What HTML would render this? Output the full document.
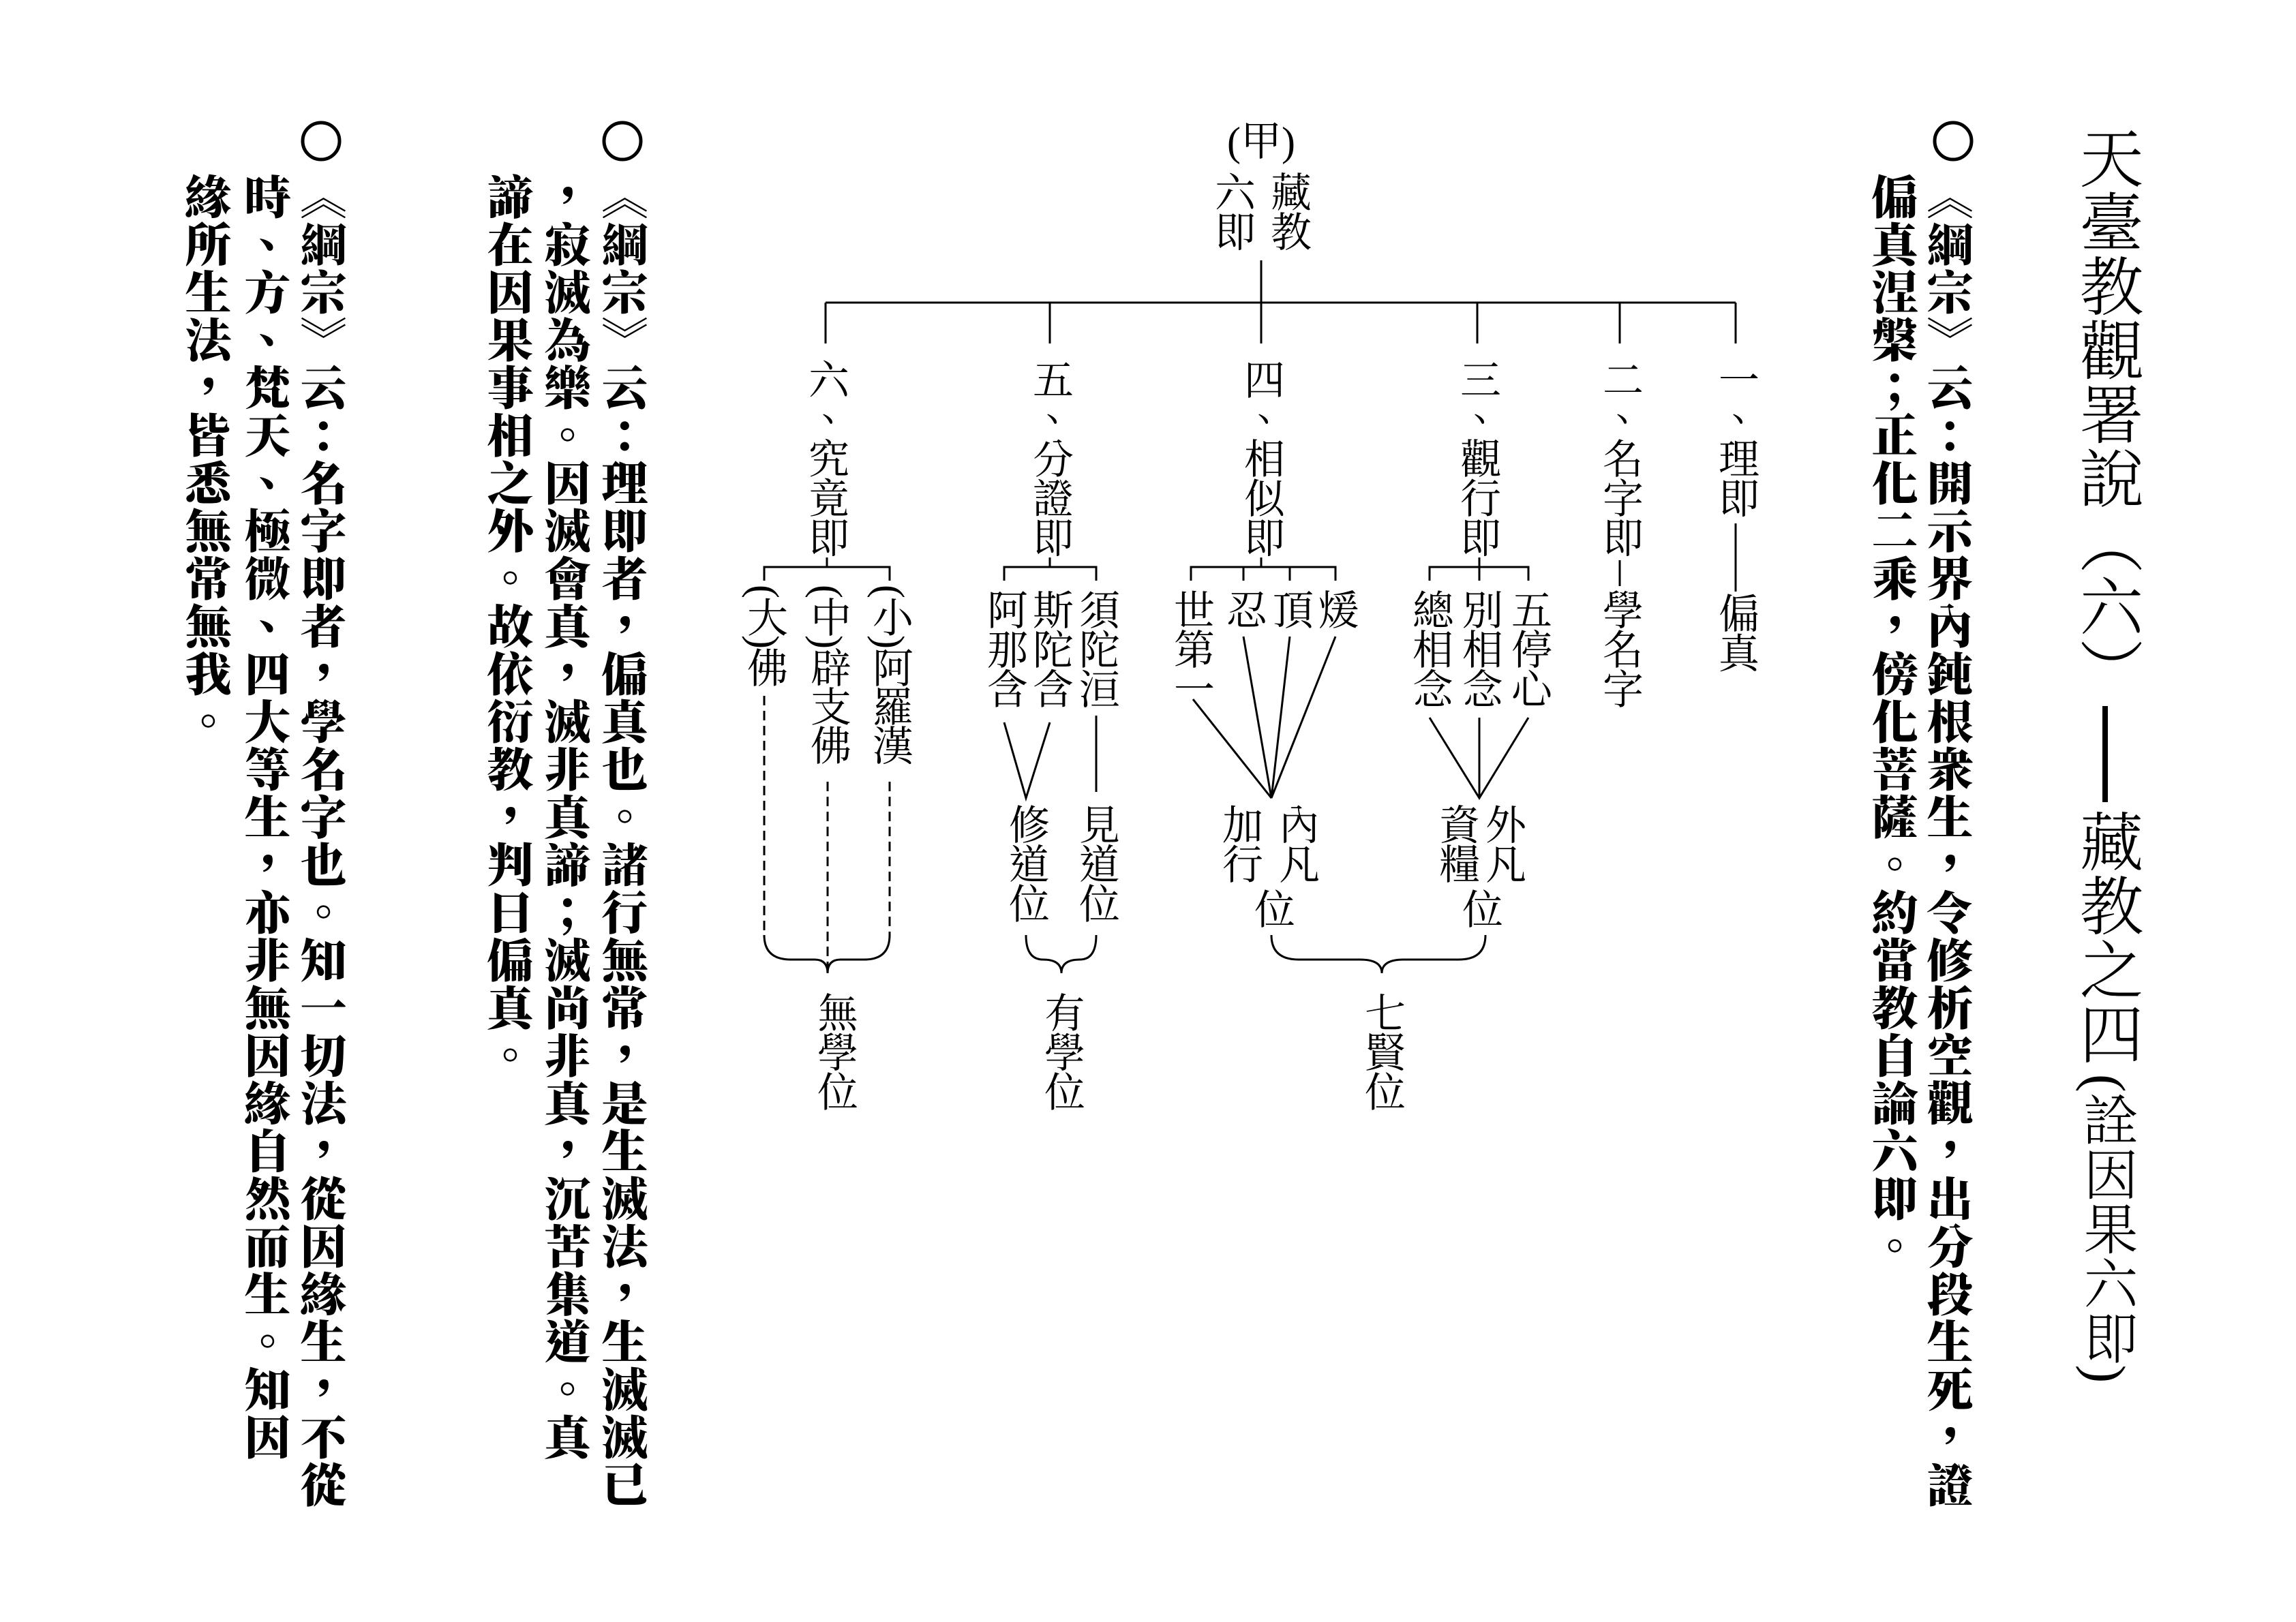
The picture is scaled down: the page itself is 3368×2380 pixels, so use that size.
<!DOCTYPE html>
<html lang="zh-TW"><head><meta charset="utf-8"><style>
body{margin:0;background:#fff}
#c{position:relative;width:3368px;height:2380px;overflow:hidden;background:#fff}
.v{position:absolute;writing-mode:vertical-rl;line-height:1;white-space:nowrap;color:#000}
.t{font-family:"Liberation Serif","Noto Serif CJK SC",serif;font-size:94px;font-weight:300;width:94px}
.p{font-family:"Liberation Serif","Noto Serif CJK SC",serif;font-size:68px;font-weight:900;letter-spacing:2px;width:68px;top:254px}
.d{font-family:"Liberation Serif","Noto Serif CJK SC",serif;font-size:60px;letter-spacing:-2px;width:60px}
.h{position:absolute;font-family:"Liberation Serif","Noto Serif CJK SC",serif;font-size:60px;line-height:1;white-space:nowrap}
svg{position:absolute;left:0;top:0}
</style></head><body><div id="c">
<svg width="3368" height="2380" fill="none" stroke="#000" stroke-width="3">
<circle cx="2865" cy="207" r="27" stroke-width="5"/>
<circle cx="913" cy="207" r="27" stroke-width="5"/>
<circle cx="471" cy="207" r="27" stroke-width="5"/>
<line x1="3088" y1="1036" x2="3088" y2="1177" stroke-width="8"/>
<line x1="1850" y1="382" x2="1850" y2="504"/>
<line x1="1211" y1="444" x2="2546" y2="444"/>
<line x1="1211" y1="444" x2="1211" y2="504"/>
<line x1="1540" y1="444" x2="1540" y2="504"/>
<line x1="2167" y1="444" x2="2167" y2="504"/>
<line x1="2376" y1="444" x2="2376" y2="504"/>
<line x1="2546" y1="444" x2="2546" y2="504"/>
<line x1="2546" y1="768" x2="2546" y2="868"/>
<line x1="2376" y1="822" x2="2376" y2="860"/>
<path d="M1121 852 V832 H1305 V852 M1213 818 V832"/>
<path d="M1473 852 V832 H1608 V852 M1540 818 V832"/>
<path d="M1747 852 V832 H1959 V852 M1824 832 V852 M1892 832 V852 M1850 818 V832"/>
<path d="M2097 852 V832 H2242 V852 M2170 818 V852"/>
<path d="M1750 1026 L1865 1171 L1824 934 M1865 1171 L1892 934 M1865 1171 L1959 934"/>
<path d="M2097 1053 L2170 1171 L2242 1053 M2170 1053 V1171"/>
<path d="M1473 1060 L1505 1171 L1540 1060 M1608 1050 V1162"/>
<g stroke-dasharray="14 8">
<line x1="1121" y1="1021" x2="1121" y2="1375"/>
<line x1="1214" y1="1147" x2="1214" y2="1420"/>
<line x1="1305" y1="1147" x2="1305" y2="1375"/>
</g>
<path d="M1121 1372 Q1121 1408 1160 1408 L1195 1408 Q1214 1408 1214 1428 Q1214 1408 1233 1408 L1268 1408 Q1305 1408 1305 1372"/>
<path d="M1505 1372 Q1505 1408 1530 1408 Q1557 1408 1557 1428 Q1557 1408 1584 1408 Q1608 1408 1608 1372"/>
<path d="M1865 1372 Q1865 1408 1905 1408 L1995 1408 Q2027 1408 2027 1428 Q2027 1408 2059 1408 L2140 1408 Q2179 1408 2179 1372"/>
</svg>

<div class="v t" style="left:3041px;top:184px">天臺教觀署說（六）</div>
<div class="v t" style="left:3041px;top:1187px">藏教之四</div>
<div class="v t" style="left:3048px;top:1576px;font-size:80px;width:80px">(詮因果六即)</div>

<div class="v p" style="left:2821px">《綱宗》云：開示界內鈍根衆生，令修析空觀，出分段生死，證</div>
<div class="v p" style="left:2740px">偏真涅槃；正化二乘，傍化菩薩。約當教自論六即。</div>
<div class="v p" style="left:877px">《綱宗》云：理即者，偏真也。諸行無常，是生滅法，生滅滅已</div>
<div class="v p" style="left:793px">，寂滅為樂。因滅會真，滅非真諦；滅尚非真，沉苦集道。真</div>
<div class="v p" style="left:709px">諦在因果事相之外。故依衍教，判曰偏真。</div>
<div class="v p" style="left:435px">《綱宗》云：名字即者，學名字也。知一切法，從因緣生，不從</div>
<div class="v p" style="left:353px">時、方、梵天、極微、四大等生，亦非無因緣自然而生。知因</div>
<div class="v p" style="left:266px">緣所生法，皆悉無常無我。</div>

<div class="h" style="left:1800px;top:178px">(甲)</div>
<div class="v d" style="left:1859px;top:251px">藏教</div>
<div class="v d" style="left:1777px;top:251px">六即</div>

<div class="v d" style="left:1181px;top:526px">六、究竟即</div>
<div class="v d" style="left:1510px;top:526px">五、分證即</div>
<div class="v d" style="left:1820px;top:526px">四、相似即</div>
<div class="v d" style="left:2137px;top:526px">三、觀行即</div>
<div class="v d" style="left:2346px;top:526px">二、名字即</div>
<div class="v d" style="left:2516px;top:526px">一、理即</div>
<div class="v d" style="left:2516px;top:869px">偏真</div>
<div class="v d" style="left:2346px;top:864px">學名字</div>

<div class="v d" style="left:2067px;top:864px">總相念</div>
<div class="v d" style="left:2140px;top:864px">別相念</div>
<div class="v d" style="left:2212px;top:864px">五停心</div>
<div class="v d" style="left:2106px;top:1179px">資糧</div>
<div class="v d" style="left:2174px;top:1179px">外凡</div>
<div class="v d" style="left:2140px;top:1303px">位</div>

<div class="v d" style="left:1717px;top:864px">世第一</div>
<div class="v d" style="left:1794px;top:864px">忍</div>
<div class="v d" style="left:1862px;top:864px">頂</div>
<div class="v d" style="left:1929px;top:864px">煖</div>
<div class="v d" style="left:1788px;top:1179px">加行</div>
<div class="v d" style="left:1871px;top:1179px">內凡</div>
<div class="v d" style="left:1835px;top:1303px">位</div>

<div class="v d" style="left:1443px;top:864px">阿那含</div>
<div class="v d" style="left:1510px;top:864px">斯陀含</div>
<div class="v d" style="left:1578px;top:864px">須陀洹</div>
<div class="v d" style="left:1475px;top:1179px">修道位</div>
<div class="v d" style="left:1578px;top:1179px">見道位</div>

<div class="v d" style="left:1091px;top:858px;letter-spacing:-3px">(大)佛</div>
<div class="v d" style="left:1184px;top:858px;letter-spacing:-3px">(中)辟支佛</div>
<div class="v d" style="left:1275px;top:858px;letter-spacing:-3px">(小)阿羅漢</div>

<div class="v d" style="left:1194px;top:1455px">無學位</div>
<div class="v d" style="left:1527px;top:1455px">有學位</div>
<div class="v d" style="left:1997px;top:1455px">七賢位</div>
</div></body></html>
